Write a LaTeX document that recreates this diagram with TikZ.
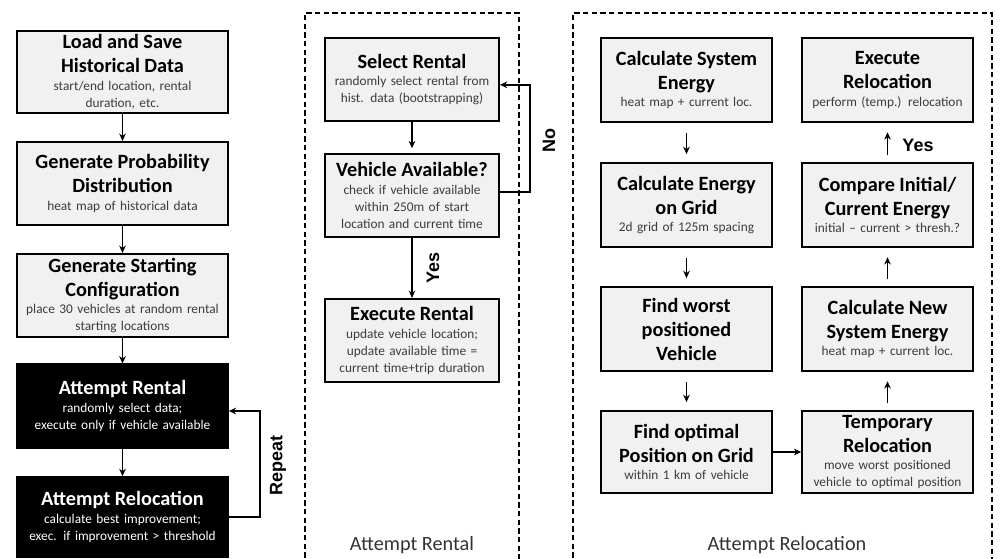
\documentclass[tikz,border=0pt]{standalone}
\usepackage{fontspec}
\setmainfont{Carlito}
\newfontfamily\lblfont{Liberation Sans}
\usetikzlibrary{arrows.meta}
\definecolor{boxgray}{HTML}{F1F1F1}
\definecolor{subgray}{HTML}{3C3C3C}
\definecolor{capgray}{HTML}{333333}
\def\subcol{subgray}
\newcommand\hdfont{\fontsize{15.2}{18}\selectfont\bfseries}
\newcommand\smfont{\fontsize{10}{12.8}\selectfont\color{\subcol}}
\newcommand\bxt[2]{{\hdfont #1\par}\vspace{0.5pt}{\smfont #2\par}}
\newcommand\bxh[1]{{\hdfont #1\par}}

\tikzset{
  stepbox/.style={draw=black, line width=1.4pt, fill=boxgray, align=center,
    inner sep=0pt, text width=#1, minimum width=#1, minimum height=62.5pt},
  darkbox/.style={stepbox=#1, fill=black, text=white,
    execute at begin node={\def\subcol{white}}},
  conn/.style={line width=1pt, -{Stealth[length=5.5pt,width=5pt]}},
  frame/.style={line width=1.2pt, dash pattern=on 4pt off 2.5pt},
  lbl/.style={font=\lblfont\bfseries\fontsize{13.5}{16}\selectfont},
  sect/.style={font=\fontsize{15.2}{18}\selectfont, text=capgray},
}

\begin{document}
\begin{tikzpicture}[x=0.75pt, y=-0.75pt]
\useasboundingbox (0,0) rectangle (1002,558);

% ---- main simulation loop (left column)
\node[stepbox=158pt, minimum height=61.5pt] (hist) at (122.5,72)
  {\bxt{Load and Save\\Historical Data}{start/end location, rental\\duration, etc.}};
\node[stepbox=158pt] (prob) at (122.5,183.5)
  {\bxt{Generate Probability\\Distribution}{heat map of historical data}};
\node[stepbox=158pt] (start) at (122.5,295.5)
  {\bxt{Generate Starting\\Configuration}{place 30 vehicles at random rental\\starting locations}};
\node[darkbox=158pt] (arent) at (122.5,406)
  {\bxt{Attempt Rental}{randomly select data;\\execute only if vehicle available}};
\node[darkbox=158pt, minimum height=60pt] (areloc) at (122.5,517)
  {\bxt{Attempt Relocation}{calculate best improvement;\\exec. if improvement > threshold}};

\draw[conn] (hist) -- (prob);
\draw[conn] (prob) -- (start);
\draw[conn] (start) -- (arent);
\draw[conn] (arent) -- (areloc);

\coordinate (rpt) at (260,0);
\draw[conn] (areloc.east) -- (areloc.east -| rpt) |- ([yshift=-3.75pt]arent.east);
\node[lbl, rotate=90] (rep) at (278,465) {Repeat};

% ---- rental step
\draw[frame] (305,575) -- (305,13) -- (519,13) -- (519,575);
\node[stepbox=130.5pt] (sel) at (412,79.5)
  {\bxt{Select Rental}{randomly select rental from\\hist. data (bootstrapping)}};
\node[stepbox=130.5pt] (avail) at (412,195.5)
  {\bxt{Vehicle Available?}{check if vehicle available\\within 250m of start\\location and current time}};
\node[stepbox=130.5pt] (exec) at (412,340.5)
  {\bxt{Execute Rental}{update vehicle location;\\update available time =\\current time+trip duration}};

\draw[conn, shorten >=3.5pt] (sel) -- (avail);
\draw[conn] (avail) -- (exec);
\node[lbl, rotate=90] (yes1) at (433,268) {Yes};

\coordinate (nox) at (530,0);
\coordinate (vaout) at ([yshift=2.6pt]avail.east);
\draw[conn] (vaout) -- (vaout -| nox) |- ([yshift=-4pt]sel.east);
\node[lbl, rotate=90] (no) at (549,140) {No};
\node[sect] (capr) at (412,545) {Attempt Rental};

% ---- relocation step
\draw[frame] (573,575) -- (573,13) -- (992,13) -- (992,575);
\node[stepbox=128pt, minimum height=63pt] (sysE) at (686.5,80)
  {\bxt{Calculate System\\Energy}{heat map + current loc.}};
\node[stepbox=128pt, minimum height=63pt] (gridE) at (686.5,205)
  {\bxt{Calculate Energy\\on Grid}{2d grid of 125m spacing}};
\node[stepbox=128pt, minimum height=63pt] (worst) at (686.5,329)
  {\bxh{Find worst\\positioned\\Vehicle}};
\node[stepbox=128pt, minimum height=61.5pt] (opt) at (686.5,452)
  {\bxt{Find optimal\\Position on Grid}{within 1 km of vehicle}};
\node[stepbox=128pt, minimum height=61.5pt] (temp) at (887.5,452)
  {\bxt{Temporary\\Relocation}{move worst positioned\\vehicle to optimal position}};
\node[stepbox=128pt, minimum height=63pt] (newE) at (887.5,329)
  {\bxt{Calculate New\\System Energy}{heat map + current loc.}};
\node[stepbox=128pt, minimum height=63pt] (cmp) at (887.5,205)
  {\bxt{Compare Initial/\\Current Energy}{initial -- current > thresh.?}};
\node[stepbox=128pt, minimum height=63pt] (doreloc) at (887.5,80)
  {\bxt{Execute\\Relocation}{perform (temp.) relocation}};

\begin{scope}[shorten <=7.5pt, shorten >=6pt]
\draw[conn] (sysE) -- (gridE);
\draw[conn] (gridE) -- (worst);
\draw[conn] (worst) -- (opt);
\end{scope}
\draw[conn] (opt) -- (temp);
\begin{scope}[shorten <=5pt, shorten >=7pt]
\draw[conn] (temp) -- (newE);
\draw[conn] (newE) -- (cmp);
\draw[conn] (cmp) -- (doreloc);
\end{scope}
\node[lbl] (yes2) at (918,145) {Yes};
\node[sect] (capl) at (787,545) {Attempt Relocation};
\end{tikzpicture}
\end{document}
